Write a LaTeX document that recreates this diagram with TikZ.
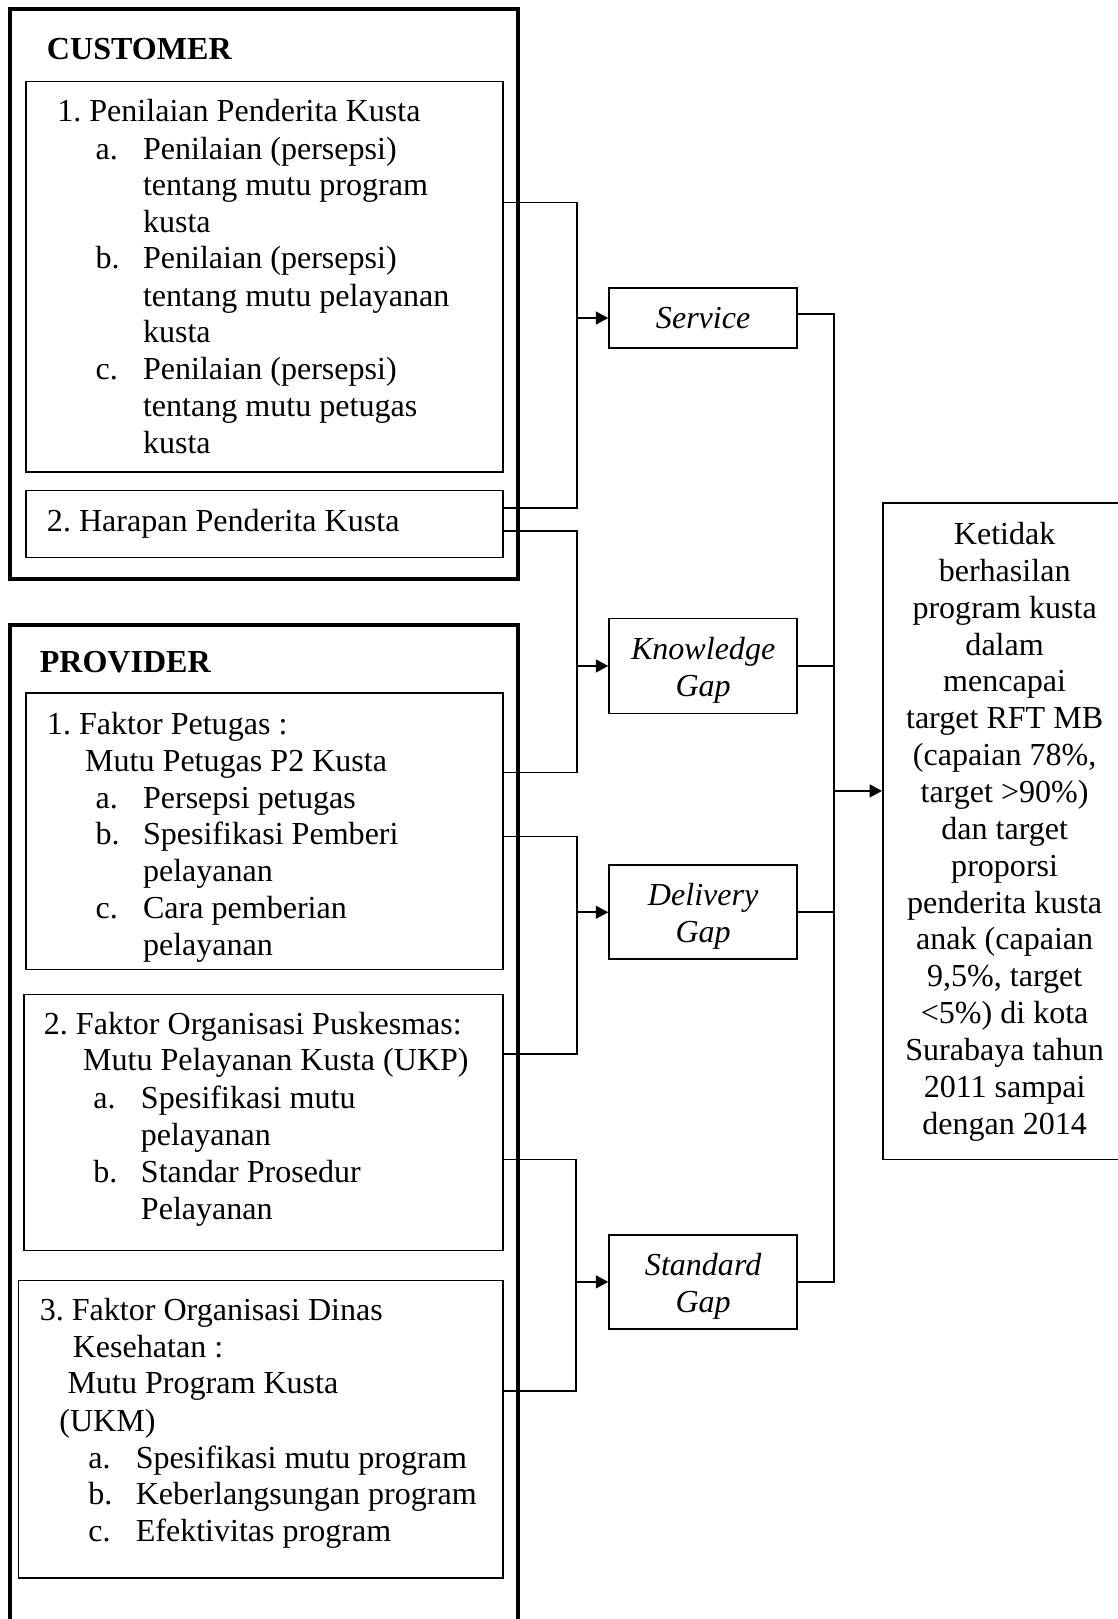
\documentclass[tikz,border=0pt]{standalone}
\usepackage{fontspec}
\setmainfont{Liberation Serif}
\usetikzlibrary{arrows.meta,fit}
\newlength\upx
\setlength\upx{0.3865pt}
\begin{document}
\frenchspacing
\begin{tikzpicture}[x=0.3865pt, y=-0.3865pt,
  txt/.style={anchor=base west, inner sep=0, font=\fontsize{12}{13.8}\selectfont},
  head/.style={anchor=base west, inner sep=0, font=\fontsize{12}{13.8}\selectfont\bfseries},
  box/.style={draw, line width=0.6pt, inner sep=0},
  outer/.style={draw, line width=1.4pt, inner sep=0},
  gap/.style={draw, line width=0.7pt, minimum width=182\upx, inner sep=0},
  gaptxt/.style={align=center, inner sep=0, font=\fontsize{12}{13.8}\selectfont\itshape},
  conn/.style={line width=0.6pt},
  arr/.style={line width=0.6pt, -{Triangle[length=4.6pt,width=4.8pt]}}]
\useasboundingbox (0,0) rectangle (1082,1568);

% ---------- CUSTOMER ----------
\node[outer, fit={(10,9) (502,561)}] (cust) {};
\node[box, fit={(25,79) (487,457)}] (c1) {};
\node[box, fit={(25,475) (487,540)}] (c2) {};
\node[head] (custhead) at (45,58) {CUSTOMER};
\foreach \x/\y/\t [count=\i] in {
  55/107/{1. Penilaian Penderita Kusta},
  92/143/{a.}, 138/143/{Penilaian (persepsi)},
  138/178/{tentang mutu program},
  138/214/{kusta},
  92/249/{b.}, 138/249/{Penilaian (persepsi)},
  138/286/{tentang mutu pelayanan},
  138/321/{kusta},
  92/357/{c.}, 138/357/{Penilaian (persepsi)},
  138/392/{tentang mutu petugas},
  138/428/{kusta},
  45/504/{2. Harapan Penderita Kusta}}
  \node[txt] (cu\i) at (\x,\y+11) {\t};

% ---------- PROVIDER ----------
\node[outer, fit={(10,605) (502,1600)}] (prov) {};
\node[box, fit={(25,671) (487,939)}] (p1) {};
\node[box, fit={(23,963) (487,1211)}] (p2) {};
\node[box, fit={(18,1240) (487,1528)}] (p3) {};
\node[head] (provhead) at (38,651) {PROVIDER};
\foreach \x/\y/\t [count=\i] in {
  45/700/{1. Faktor Petugas :},
  82/736/{Mutu Petugas P2 Kusta},
  92/772/{a.}, 138/772/{Persepsi petugas},
  92/807/{b.}, 138/807/{Spesifikasi Pemberi},
  138/843/{pelayanan},
  92/879/{c.}, 138/879/{Cara pemberian},
  138/914/{pelayanan},
  42/991/{2. Faktor Organisasi Puskesmas:},
  80/1026/{Mutu Pelayanan Kusta (UKP)},
  90/1063/{a.}, 136/1063/{Spesifikasi mutu},
  136/1098/{pelayanan},
  90/1134/{b.}, 136/1134/{Standar Prosedur},
  136/1170/{Pelayanan},
  38/1268/{3. Faktor Organisasi Dinas},
  70/1304/{Kesehatan :},
  65/1339/{Mutu Program Kusta},
  57/1375/{(UKM)},
  85/1411/{a.}, 131/1411/{Spesifikasi mutu program},
  85/1446/{b.}, 131/1446/{Keberlangsungan program},
  85/1482/{c.}, 131/1482/{Efektivitas program}}
  \node[txt] (pr\i) at (\x,\y+11) {\t};

% ---------- GAP BOXES ----------
\node[gap, minimum height=58\upx] (svc) at (681,308) {};
\node[gap, minimum height=92\upx] (kg) at (681,645) {};
\node[gap, minimum height=91\upx] (dg) at (681,883.5) {};
\node[gap, minimum height=91\upx] (sg) at (681,1241.5) {};
\node[gaptxt] (svct) at (svc.center) {Service};
\node[gaptxt] (kgt) at ([yshift=-1.5pt]kg.center) {Knowledge\\Gap};
\node[gaptxt] (dgt) at ([yshift=-1.5pt]dg.center) {Delivery\\Gap};
\node[gaptxt] (sgt) at ([yshift=-1.5pt]sg.center) {Standard\\Gap};

% ---------- RESULT ----------
\node[box, fit={(855,487) (1090,1123)}] (res) {};
\node[align=center, inner sep=0, font=\fontsize{12}{13.8}\selectfont] (restxt) at (973,805.5)
  {Ketidak\\berhasilan\\program kusta\\dalam\\mencapai\\target RFT MB\\(capaian 78\%,\\target >90\%)\\dan target\\proporsi\\penderita kusta\\anak (capaian\\9,5\%, target\\<5\%) di kota\\Surabaya tahun\\2011 sampai\\dengan 2014};

% ---------- CONNECTORS (left) ----------
\coordinate (ja1) at (559,196);
\coordinate (ja2) at (559,492);
\draw[conn] (c1.east |- ja1) -- (ja1) -- (ja2) -- (c2.east |- ja2);
\draw[arr] (svc.west -| ja1) -- (svc.west);

\coordinate (jb1) at (559,514);
\coordinate (jb2) at (559,748);
\draw[conn] (c2.east |- jb1) -- (jb1) -- (jb2) -- (p1.east |- jb2);
\draw[arr] (kg.west -| jb1) -- (kg.west);

\coordinate (jc1) at (559,810);
\coordinate (jc2) at (559,1021);
\draw[conn] (p1.east |- jc1) -- (jc1) -- (jc2) -- (p2.east |- jc2);
\draw[arr] (dg.west -| jc1) -- (dg.west);

\coordinate (jd1) at (558,1123);
\coordinate (jd2) at (558,1347);
\draw[conn] (p2.east |- jd1) -- (jd1) -- (jd2) -- (p3.east |- jd2);
\draw[arr] (sg.west -| jd1) -- (sg.west);

% ---------- CONNECTORS (right) ----------
\coordinate (rb) at (808,766);
\coordinate (rs) at (808,304);
\draw[conn] (svc.east |- rs) -- (rs) -- (sg.east -| rb) -- (sg.east);
\draw[conn] (kg.east) -- (kg.east -| rb);
\draw[conn] (dg.east) -- (dg.east -| rb);
\draw[arr] (rb) -- (rb -| res.west);
\end{tikzpicture}
\end{document}
